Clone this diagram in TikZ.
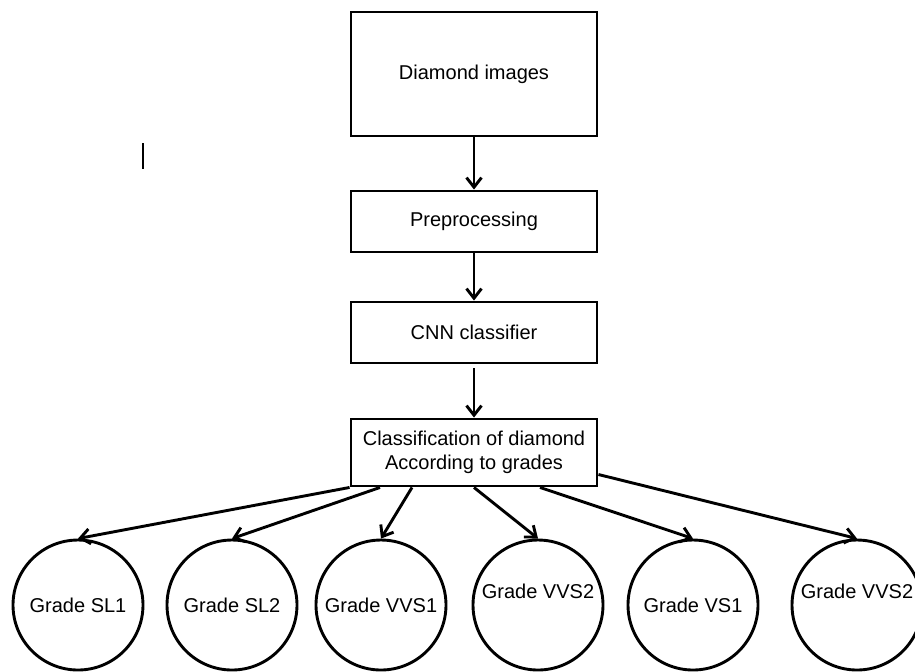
\documentclass[tikz,border=0pt]{standalone}
\usepackage{fontspec}
\setmainfont{Liberation Sans}
\usetikzlibrary{positioning, arrows.meta}
\tikzset{
    box/.style={draw, minimum width=123pt, inner sep=0pt}, % Pipeline steps
    grade/.style={draw, circle, minimum size=65pt, inner sep=0pt}, % Output classes
}

\begin{document}
\begin{tikzpicture}[
    x=0.5pt, y=-0.5pt, on grid,
    line width=1.45pt,
    >={Straight Barb[length=4.8pt, width=7.5pt]},
    every node/.style={font=\fontsize{10}{12}\selectfont}
]
    \useasboundingbox (0,0) rectangle (915,671);

    % --- Pipeline ---
    \node[box, minimum height=62pt] (img) at (474,74) {Diamond images};
    \node[box, minimum height=30.5pt] (pre) [below=73.75pt of img] {Preprocessing};
    \node[box, minimum height=30.5pt] (cnn) [below=55.5pt of pre] {CNN classifier};
    \node[box, minimum height=33.5pt, align=center] (cls) [below=60pt of cnn]
        {Classification of diamond\\According to grades};

    % --- Grades ---
    \node[grade] (sl1) at (78,605) {Grade SL1};
    \node[grade] (sl2) at (232,605) {Grade SL2};
    \node[grade] (vvs1) at (381,605) {Grade VVS1};
    \node[grade, text depth=14pt] (vvs2) at (538,605) {Grade VVS2};
    \node[grade] (vs1) at (693,605) {Grade VS1};
    \node[grade, text depth=14pt] (vvs2b) at (857,605) {Grade VVS2};

    % --- Flow ---
    \path[->]
        (img) edge (pre)
        (pre) edge (cnn)
        ([yshift=-2pt]cnn.south) edge (cls)
        % Fan out
        (cls.south west) edge (sl1.north)
        ([xshift=-47pt]cls.south) edge (sl2.north)
        ([xshift=-31pt]cls.south) edge (vvs1.north)
        (cls.south) edge (vvs2.north)
        ([xshift=33pt]cls.south) edge (vs1.north)
        ([yshift=-11pt]cls.east) edge (vvs2b.north);

    % stray mark
    \draw[line width=0.8pt] (143,143) -- (143,169);
\end{tikzpicture}
\end{document}
